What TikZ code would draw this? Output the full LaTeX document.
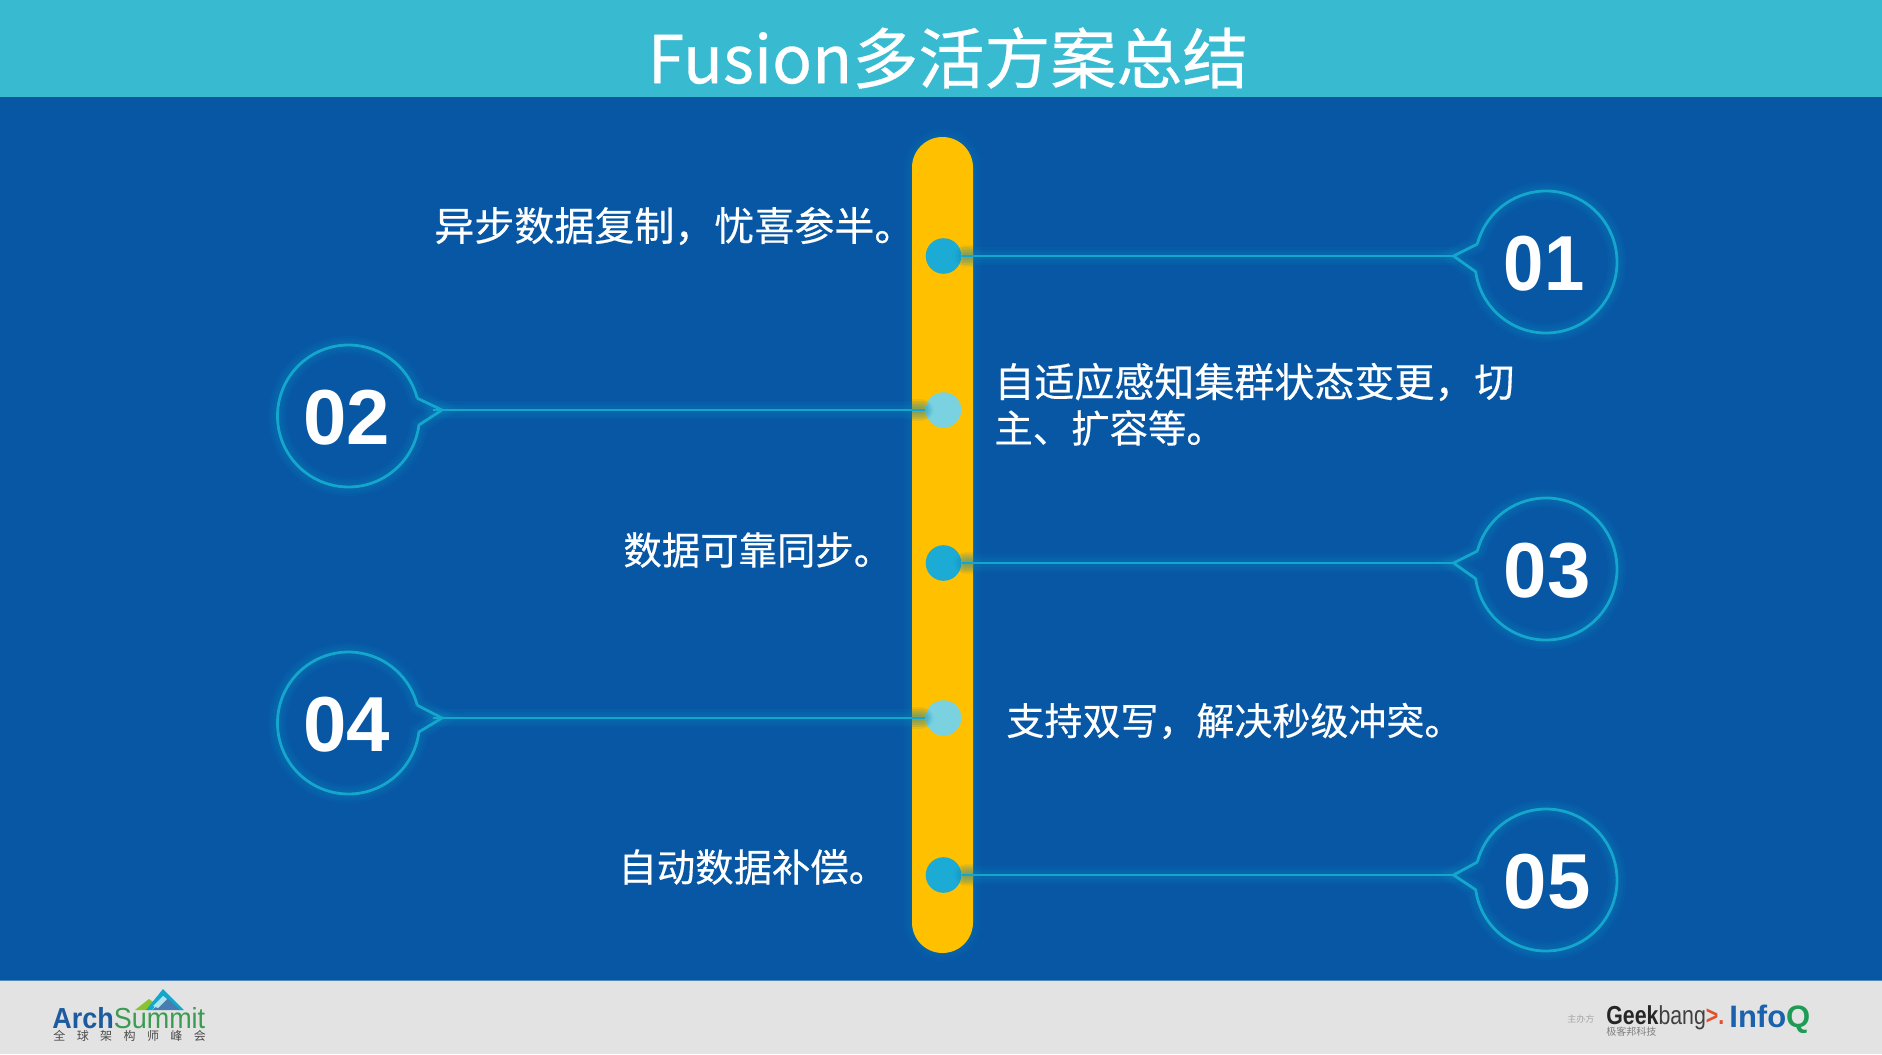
\documentclass[tikz,border=0pt]{standalone}
\usepackage{fontspec}
\setmainfont{Noto Sans CJK SC}
\newfontfamily\labfont[FakeBold=0.4]{Noto Sans CJK SC}
\newfontfamily\numfont{Liberation Sans}
\usetikzlibrary{calc}
\definecolor{bgblue}{HTML}{0757A5}
\definecolor{headcyan}{HTML}{38BBD1}
\definecolor{footgray}{HTML}{E3E3E3}
\definecolor{barcol}{HTML}{FFC000}
\definecolor{linecol}{HTML}{14A6CC}
\definecolor{dotdark}{HTML}{1BABD5}
\definecolor{dotlight}{HTML}{7AD2E1}
\definecolor{shadecol}{HTML}{1F6F9F}
\definecolor{archblue}{HTML}{1C5C9E}
\definecolor{archgreen}{HTML}{3B9B50}
\definecolor{logored}{HTML}{E2512A}
\definecolor{infoblue}{HTML}{1B62AE}
\definecolor{infogreen}{HTML}{1E9B55}
\tikzset{
  x=0.5pt,y=0.5pt,
  label text/.style={text=white,font=\labfont\fontsize{#1}{23}\selectfont,anchor=west,inner sep=0pt,align=left},
  num text/.style={text=white,font=\numfont\bfseries\fontsize{39}{39}\selectfont,inner sep=0pt},
  dotnode/.style={circle,inner sep=0pt,minimum size=17.8pt,fill=#1},
  wire/.style={draw=linecol,line width=1.4pt},
  wire glow/.style={draw=linecol,line cap=round},
  logotext/.style={inner sep=0pt,anchor=base west},
}
\newcommand{\glowpath}[1]{%
  \foreach \w in {9,6.5,4}{\draw[wire glow,line width=\w pt,opacity=.07] #1;}%
  \draw[wire,line join=round] #1;}
\newcommand{\spotpath}[1]{%
  \begin{scope}
  \clip (912,-137) rectangle (973,-953);
  \foreach \w in {11,9,7,5,3}{\draw[shadecol,line width=\w pt,line cap=round,opacity=.09] #1;}
  \end{scope}}
\begin{document}
\begin{tikzpicture}
\useasboundingbox (0,0) rectangle (1882,-1054);
% backgrounds
\fill[bgblue] (0,0) rectangle (1882,-1054);
\fill[headcyan] (0,0) rectangle (1882,-97);
\fill[footgray] (0,-980.5) rectangle (1882,-1054);
\draw[bgblue!70!white,line width=.5pt] (0,-980.5) -- (1882,-980.5);
\node[text=white,font=\labfont\fontsize{33}{36}\selectfont,inner sep=0pt] (title) at (948,-58) {Fusion多活方案总结};
% bar
\foreach \w in {8,5,2.5}{\draw[linecol,opacity=.05,line width=\w pt,rounded corners=15.25pt] (912,-137) rectangle (973,-953);}
\node[fill=barcol,inner sep=0pt,minimum width=30.5pt,minimum height=408pt,rounded corners=15.25pt] (bar) at (942.5,-545) {};
% dots
\node[dotnode=dotdark]  (dot1) at (943.5,-256) {};
\node[dotnode=dotlight] (dot2) at (943.5,-410) {};
\node[dotnode=dotdark]  (dot3) at (943.5,-563) {};
\node[dotnode=dotlight] (dot4) at (943.5,-718) {};
\node[dotnode=dotdark]  (dot5) at (943.5,-875) {};
% right-hand callouts
\foreach \n/\cy/\ly/\t/\nx/\sx in {1/262/256/01/1544/.93,3/569/563/03/1547/1,5/880/875/05/1547/1}{
  \coordinate (c\n) at (1546,-\cy);
  \coordinate (tip\n) at (1453.5,-\ly);
  \coordinate (spota\n) at (966,-\ly);
  \coordinate (spotb\n) at (985,-\ly);
  \path[draw=none] (c\n) ++(165.4:35.5pt) coordinate (na\n);
  \path[draw=none] (c\n) ++(187.9:35.5pt) coordinate (nb\n);
  \spotpath{(spota\n) -- (spotb\n)}
  \glowpath{(na\n) -- (tip\n) -- (nb\n) arc[start angle=187.9,end angle=525.4,radius=35.5pt]}
  \glowpath{(dot\n.east) -- (tip\n)}
  \node[num text,xscale=\sx] (num\n) at (\nx,-\cy-1.5) {\t};
}
% left-hand callouts
\foreach \n/\cy/\ly/\t in {2/416/410/02,4/723/718/04}{
  \coordinate (c\n) at (348.5,-\cy);
  \coordinate (tip\n) at (442,-\ly);
  \coordinate (wire\n) at (433,-\ly);
  \coordinate (spota\n) at (900,-\ly);
  \coordinate (spotb\n) at (921,-\ly);
  \path[draw=none] (c\n) ++(14.5:35.5pt) coordinate (na\n);
  \path[draw=none] (c\n) ++(-7.3:35.5pt) coordinate (nb\n);
  \spotpath{(spota\n) -- (spotb\n)}
  \glowpath{(na\n) -- (tip\n) -- (nb\n) arc[start angle=-7.3,end angle=-345.5,radius=35.5pt]}
  \glowpath{(wire\n) -- (dot\n.west)}
  \node[num text] (num\n) at (346.5,-\cy-1.5) {\t};
}
% labels
\node[label text=20] (t1)  at (434,-226) {异步数据复制，忧喜参半。};
\node[label text=20] (t2)  at (994,-382) {自适应感知集群状态变更，切};
\node[label text=19.2] (t2b) at (994,-428) {主、扩容等。};
\node[label text=19.2] (t3)  at (623,-550) {数据可靠同步。};
\node[label text=19] (t4)  at (1006,-721) {支持双写，解决秒级冲突。};
\node[label text=19.2] (t5)  at (618,-867) {自动数据补偿。};
% ArchSummit logo
\fill[archgreen!60!yellow] (135,-1010) -- (149,-999) -- (156,-1004) -- (149,-1010) -- cycle;
\fill[linecol] (146,-1010) -- (163,-989) -- (184,-1010) -- (178,-1010) -- (163,-996) -- (152,-1010) -- cycle;
\fill[archblue!80!white] (152,-1010) -- (167,-998) -- (180,-1010) -- cycle;
\fill[dotlight!60!white] (153,-1006) -- (163,-996) -- (167,-999) -- (158,-1008) -- cycle;
\node[logotext,xscale=.93] (arch) at (52,-1028) {\numfont\fontsize{14.5}{15}\selectfont\textcolor{archblue}{\bfseries Arch}\textcolor{archgreen}{Summit}};
\node[logotext,text=black!70,font=\fontsize{6}{6}\selectfont] (archcn) at (53,-1040) {全\hskip5.7pt 球\hskip5.7pt 架\hskip5.7pt 构\hskip5.7pt 师\hskip5.7pt 峰\hskip5.7pt 会};
% sponsor logos
\node[logotext,text=black!35,font=\fontsize{4.5}{5}\selectfont] (host) at (1567,-1022) {主办方};
\node[logotext,xscale=.82] (geek) at (1606,-1024) {\numfont\fontsize{13}{14}\selectfont\textcolor{black!85}{\bfseries Geek}\textcolor{black!75}{bang}\textcolor{logored}{\bfseries >.}};
\node[logotext,text=black!50,font=\fontsize{5}{5}\selectfont] (geekcn) at (1606,-1035) {极客邦科技};
\node[logotext] (infoq) at (1729,-1027) {\numfont\bfseries\fontsize{15.5}{16}\selectfont\textcolor{infoblue}{Info}\textcolor{infogreen}{Q}};
\end{tikzpicture}
\end{document}
